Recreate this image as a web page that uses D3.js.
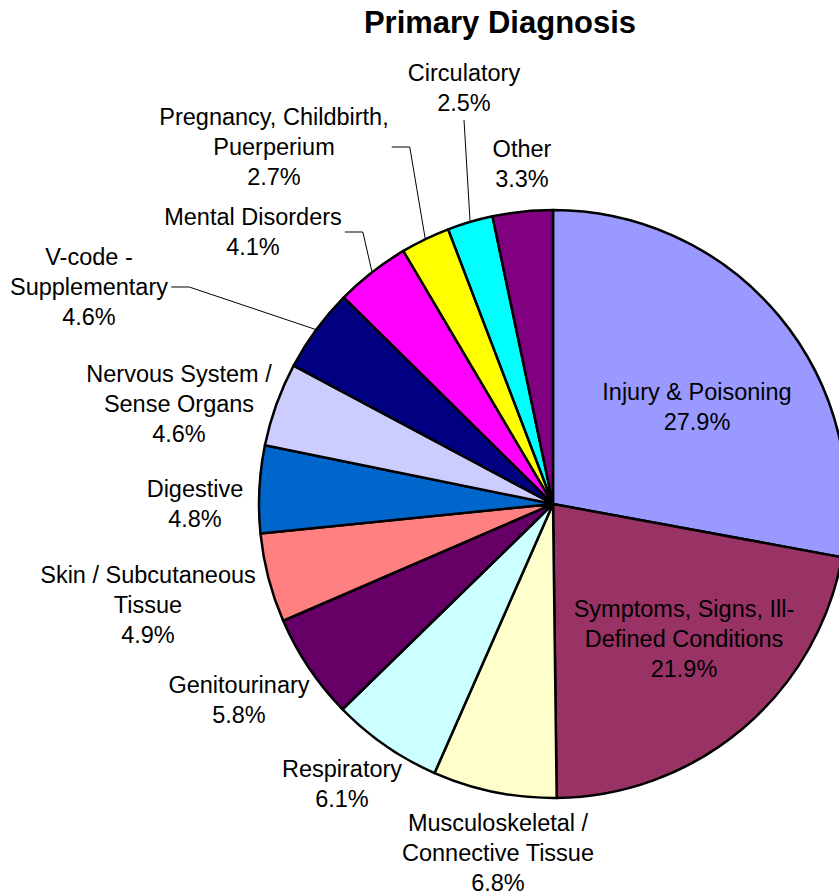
<!DOCTYPE html>
<html>
<head>
<meta charset="utf-8">
<script src="https://cdn.jsdelivr.net/npm/d3@7"></script>
<style>
  body { margin: 0; background: #fff; }
  svg { display: block; font-family: "Liberation Sans", Arial, sans-serif; }
</style>
</head>
<body>
<svg width="839" height="896"></svg>
<script>
// categories, clockwise from 12 o'clock
var categories = [
  "Injury & Poisoning",
  "Symptoms, Signs, Ill-Defined Conditions",
  "Musculoskeletal / Connective Tissue",
  "Respiratory",
  "Genitourinary",
  "Skin / Subcutaneous Tissue",
  "Digestive",
  "Nervous System / Sense Organs",
  "V-code - Supplementary",
  "Mental Disorders",
  "Pregnancy, Childbirth, Puerperium",
  "Circulatory",
  "Other"
];
var values = [27.9, 21.9, 6.8, 6.1, 5.8, 4.9, 4.8, 4.6, 4.6, 4.1, 2.7, 2.5, 3.3];
var colors = ["#9999ff", "#993366", "#ffffcc", "#ccffff", "#660066", "#ff8080",
              "#0066cc", "#ccccff", "#000080", "#ff00ff", "#ffff00", "#00ffff", "#800080"];
// how each label is broken into lines
var labelLines = [
  ["Injury & Poisoning"],
  ["Symptoms, Signs, Ill-", "Defined Conditions"],
  ["Musculoskeletal /", "Connective Tissue"],
  ["Respiratory"],
  ["Genitourinary"],
  ["Skin / Subcutaneous", "Tissue"],
  ["Digestive"],
  ["Nervous System /", "Sense Organs"],
  ["V-code -", "Supplementary"],
  ["Mental Disorders"],
  ["Pregnancy, Childbirth,", "Puerperium"],
  ["Circulatory"],
  ["Other"]
];

// layout: label block centres and leader style (placed like the original)
var labelPos = [
  [697, 407], [684, 639], [498, 853], [342, 784], [239, 700], [148, 605],
  [195, 504], [179, 404], [89, 287], [253, 232], [274, 147], [464, 88], [522, 164]
];
var leader = [null, null, null, null, null, null, null, null, "side", "side", "side", "below", null];

var svg = d3.select("svg"),
    cx = 553, cy = 504, radius = 294,
    lineH = 30, fontSize = 23.5;

svg.append("text")
    .attr("x", 500)
    .attr("y", 33)
    .attr("text-anchor", "middle")
    .attr("font-size", 31)
    .attr("font-weight", "bold")
    .text("Primary Diagnosis");

var pie = d3.pie().sort(null).value(function(d) { return d; });
var arcs = pie(values);
var arc = d3.arc().innerRadius(0).outerRadius(radius);
var edge = d3.arc().innerRadius(radius).outerRadius(radius);

var g = svg.append("g").attr("transform", "translate(" + cx + "," + cy + ")");

g.selectAll(".slice")
    .data(arcs)
    .enter().append("path")
    .attr("class", "slice")
    .attr("d", arc)
    .attr("fill", function(d, i) { return colors[i]; })
    .attr("stroke", "#000")
    .attr("stroke-width", 2.5)
    .attr("stroke-linejoin", "round");

var fmt = d3.format(".1f");

var label = svg.selectAll(".label")
    .data(arcs)
    .enter().append("g")
    .attr("class", "label");

label.each(function(d, i) {
    var lines = labelLines[i].concat([fmt(values[i]) + "%"]);
    var p = labelPos[i];
    var t = d3.select(this).append("text")
        .attr("text-anchor", "middle")
        .attr("font-size", fontSize)
        .attr("fill", "#000");
    lines.forEach(function(s, k) {
        t.append("tspan")
            .attr("x", p[0])
            .attr("y", p[1] + (k - (lines.length - 1) / 2) * lineH + 8)
            .text(s);
    });

    if (!leader[i]) return;
    var e = edge.centroid(d);
    var end = [cx + e[0], cy + e[1]];
    var path;
    if (leader[i] === "side") {
        var w = t.node().getBBox();
        var x0 = w.x + w.width + 3;
        path = "M" + x0 + "," + p[1] + "H" + (x0 + 18) + "L" + end[0] + "," + end[1];
    } else {
        var bb = t.node().getBBox();
        path = "M" + p[0] + "," + (bb.y + bb.height + 4) + "L" + end[0] + "," + end[1];
    }
    d3.select(this).append("path")
        .attr("d", path)
        .attr("fill", "none")
        .attr("stroke", "#000")
        .attr("stroke-width", 1);
});
</script>
</body>
</html>
